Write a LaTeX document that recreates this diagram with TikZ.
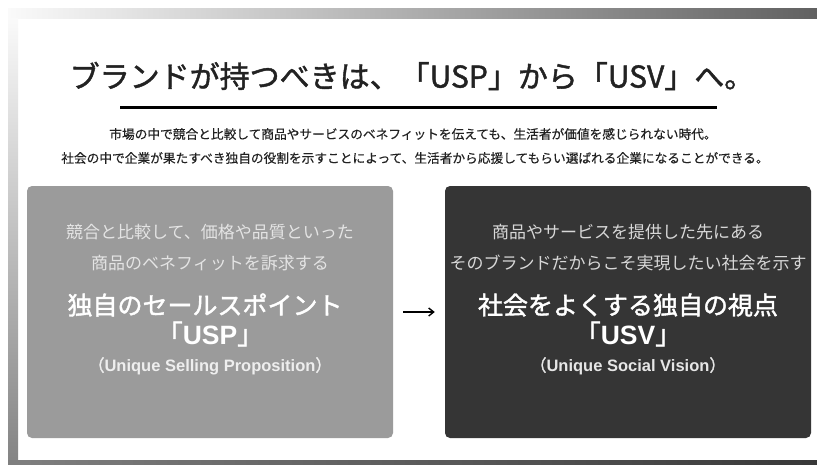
\documentclass[tikz,border=0pt]{standalone}
\usepackage{fontspec}
\setmainfont{Noto Sans CJK JP}
\newfontfamily\titlefont[FakeBold=1.4]{Noto Sans CJK JP}
\newfontfamily\headfont[FakeBold=1.6]{Noto Sans CJK JP}
\newfontfamily\notefont[FakeBold=0.4]{Noto Sans CJK JP}
\newfontfamily\latfont{Liberation Sans}
\usetikzlibrary{arrows.meta}
\definecolor{boxA}{HTML}{9B9B9B}
\definecolor{boxB}{HTML}{353535}
\definecolor{subA}{HTML}{E4E4E4}
\definecolor{subB}{HTML}{D8D8D8}
\definecolor{latA}{HTML}{EEEEEE}
\definecolor{latB}{HTML}{E6E6E6}
\definecolor{ink}{HTML}{222222}
\newcommand{\lb}[1]{{\latfont\bfseries #1}}
\tikzset{
  panel/.style={rounded corners=5pt, minimum width=366pt, minimum height=252pt, inner sep=0pt, draw=none},
  txt/.style={inner sep=0pt, anchor=center},
  lead/.style={txt, font=\fontsize{17}{17}\selectfont},
  head/.style={txt, text=white, font=\headfont\fontsize{25}{25}\selectfont},
  acro/.style={txt, text=white, font=\headfont\fontsize{26.5}{26.5}\selectfont},
  latin/.style={txt, font=\headfont\fontsize{16.5}{16.5}\selectfont},
  note/.style={txt, text=ink, font=\notefont\fontsize{12.7}{12.7}\selectfont},
}
\begin{document}
\begin{tikzpicture}[x=1pt,y=-1pt]
\useasboundingbox (0,0) rectangle (817,464);
\fill[white] (0,0) rectangle (817,464);
% frame bands
\shade[left color=black!2, right color=black!62] (8,8) rectangle (817,18);
\shade[top color=black!2, bottom color=black!48] (8,18) rectangle (18,460);
\shade[left color=black!50, right color=black!78] (8,460) rectangle (817,464);
% title
\node[txt, text=ink, font=\titlefont\fontsize{30}{30}\selectfont] (title) at (412,76) {ブランドが持つべきは、「USP」から「USV」へ。};
\coordinate (ul1) at (120,107);
\coordinate (ul2) at (717,107);
\draw[line width=3pt, black] (ul1) -- (ul2);
% notes
\node[note] (n1) at (413,134) {市場の中で競合と比較して商品やサービスのベネフィットを伝えても、生活者が価値を感じられない時代。};
\node[note] (n2) at (415,158) {社会の中で企業が果たすべき独自の役割を示すことによって、生活者から応援してもらい選ばれる企業になることができる。};
% panels
\node[panel, fill=boxA] (usp) at (210,312) {};
\node[panel, fill=boxB] (usv) at (628,312) {};
% left panel text
\node[lead, text=subA] (a1) at (210,232) {競合と比較して、価格や品質といった};
\node[lead, text=subA] (a2) at (210,263) {商品のベネフィットを訴求する};
\node[head] (a3) at (205,305) {独自のセールスポイント};
\node[acro] (a4) at (210,334) {「\lb{USP}」};
\node[latin, text=latA] (a5) at (210,366) {（\lb{Unique Selling Proposition}）};
% right panel text
\node[lead, text=subB] (b1) at (628,232) {商品やサービスを提供した先にある};
\node[lead, text=subB] (b2) at (628,263) {そのブランドだからこそ実現したい社会を示す};
\node[head] (b3) at (628,305) {社会をよくする独自の視点};
\node[acro] (b4) at (628,334) {「\lb{USV}」};
\node[latin, text=latB] (b5) at (628,366) {（\lb{Unique Social Vision}）};
% arrow
\draw[line width=1.4pt, black, shorten <=10pt, shorten >=10pt, -{Straight Barb[length=5pt,width=8pt]}] (usp.east) -- (usv.west);
\end{tikzpicture}
\end{document}
